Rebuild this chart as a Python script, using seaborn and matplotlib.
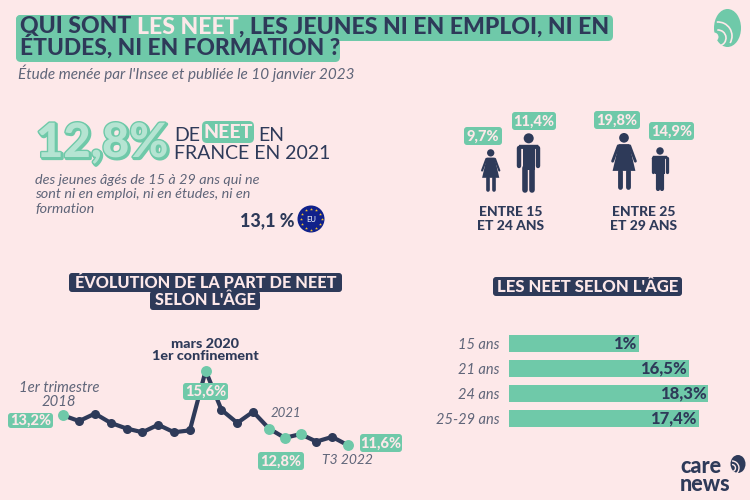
import numpy as np
import pandas as pd
import matplotlib
matplotlib.use("Agg")
import matplotlib.pyplot as plt
import matplotlib.patheffects as pe
from matplotlib.patches import Circle, Ellipse, Arc, FancyBboxPatch, Polygon
import seaborn as sns

# data
quarters = list(range(19))
neet_rate = [13.2, 12.9, 13.3, 12.8, 12.5, 12.3, 12.7, 12.3, 12.4, 15.6,
             13.5, 12.8, 13.4, 12.5, 12.0, 12.2, 11.8, 12.05, 11.6]
highlighted = [0, 9, 13, 14, 15, 18]

ages = ["15 ans", "21 ans", "24 ans", "25-29 ans"]
age_bar_lengths = [11.9, 16.5, 18.3, 17.4]
age_labels = ["1%", "16,5%", "18,3%", "17,4%"]

BG = "#FDE8E9"
GREEN = "#6FC9A9"
LIGHT_GREEN = "#B5E4D2"
NAVY = "#2E3A59"
GREY = "#5F6579"
FONT = "Lato"
PX = 0.72  # px to pt at dpi 100

sns.set_theme(style="white", rc={"figure.facecolor": BG, "axes.facecolor": "none"})
plt.rcParams["font.family"] = [FONT, "DejaVu Sans"]

fig = plt.figure(figsize=(7.5, 5), dpi=100)


def px_axes(left, top, width, height):
    return fig.add_axes([left / 750, 1 - (top + height) / 500, width / 750, height / 500])


# line chart
line_ax = px_axes(63.3, 370.7, 284.7, 74.6)
df_line = pd.DataFrame({"quarter": quarters, "rate": neet_rate})
sns.lineplot(data=df_line, x="quarter", y="rate", ax=line_ax, color=NAVY, lw=3,
             marker="o", markersize=6.5, markeredgewidth=0, clip_on=False)
sns.scatterplot(data=df_line.iloc[highlighted], x="quarter", y="rate", ax=line_ax,
                color=GREEN, s=62, linewidth=0, zorder=4, clip_on=False)
line_ax.set_xlim(0, 18)
line_ax.set_ylim(11.6, 15.6)
line_ax.axis("off")

# bar chart
bar_ax = px_axes(509, 331.3, 218, 100)
df_bar = pd.DataFrame({"age": ages, "length": age_bar_lengths})
sns.barplot(data=df_bar, y="age", x="length", ax=bar_ax, color=GREEN, saturation=1,
            width=0.68, orient="h", linewidth=0)
bar_ax.set_xlim(0, 20)
bar_ax.set_ylim(3.5, -0.5)
bar_ax.set(xlabel="", ylabel="", xticks=[])
bar_ax.tick_params(axis="y", length=0, pad=7)
for tick in bar_ax.get_yticklabels():
    tick.set(style="italic", fontsize=10.5, color=GREY)
sns.despine(ax=bar_ax, left=True, bottom=True)
for i, (length, lab) in enumerate(zip(age_bar_lengths, age_labels)):
    bar_ax.annotate(lab, (length, i), xytext=(-1.5, 0), textcoords="offset points",
                    ha="right", va="center", fontsize=12, fontweight="black", color=NAVY)

# everything else goes on a pixel overlay
ov = fig.add_axes([0, 0, 1, 1], zorder=5)
ov.set_xlim(0, 750)
ov.set_ylim(500, 0)
ov.axis("off")


def box(x0, y0, x1, y1, color=GREEN, r=4):
    ov.add_patch(FancyBboxPatch((x0 + r, y0 + r), x1 - x0 - 2 * r, y1 - y0 - 2 * r,
                                boxstyle=f"round,pad={r},rounding_size={r}",
                                fc=color, ec="none", zorder=1))


def label(x0, y0, x1, y1, s, size=10.5):
    box(x0, y0, x1, y1, r=3)
    ov.text((x0 + x1) / 2, (y0 + y1) / 2 + 0.5, s, ha="center", va="center", color=BG,
            fontsize=size, fontweight="black", zorder=3)


def run_text(x, y, parts, size, weight="black"):
    # consecutive pieces of one line, each with its colour
    renderer = fig.canvas.get_renderer()
    for s, color in parts:
        t = ov.text(x, y, s.replace(" ", "\u00a0"), color=color, fontsize=size, fontweight=weight,
                    va="baseline", ha="left", zorder=3)
        x += t.get_window_extent(renderer).width


def person(cx, top, h, woman=False):
    def pt(x, y):
        return cx + x * h, top + y * h

    def stroke(a, b, w):
        ov.plot(*zip(pt(*a), pt(*b)), color=NAVY, lw=w * h * PX, solid_capstyle="round", zorder=3)

    ov.add_patch(Circle(pt(0, 0.09), 0.085 * h, fc=NAVY, ec="none", zorder=3))
    if woman:
        ov.add_patch(Polygon([pt(-0.09, 0.2), pt(0.09, 0.2), pt(0.2, 0.67), pt(-0.2, 0.67)],
                             fc=NAVY, ec="none", zorder=3))
        for s in (-1, 1):
            stroke((s * 0.1, 0.23), (s * 0.2, 0.5), 0.05)
            stroke((s * 0.07, 0.67), (s * 0.07, 0.96), 0.085)
    else:
        ov.add_patch(Polygon([pt(-0.16, 0.2), pt(0.16, 0.2), pt(0.19, 0.27), pt(-0.19, 0.27)],
                             fc=NAVY, ec="none", zorder=3))
        ov.add_patch(Polygon([pt(-0.105, 0.22), pt(0.105, 0.22), pt(0.105, 0.62), pt(-0.105, 0.62)],
                             fc=NAVY, ec="none", zorder=3))
        for s in (-1, 1):
            stroke((s * 0.16, 0.26), (s * 0.16, 0.56), 0.075)
            stroke((s * 0.055, 0.6), (s * 0.055, 0.96), 0.095)


# title block
box(16, 15, 238, 61, r=5)
box(16, 15, 613, 41, r=5)
box(16, 40, 340, 62, r=5)
run_text(20, 33.5, [("QUI SONT ", NAVY), ("LES NEET", BG), (", LES JEUNES NI EN EMPLOI, NI EN", NAVY)], 16.6)
run_text(20, 54.5, [("ÉTUDES, NI EN FORMATION ?", NAVY)], 16.4)
ov.text(18, 73.5, "Étude menée par l'Insee et publiée le 10 janvier 2023", style="italic",
        fontsize=11, color=GREY, va="center", zorder=3)

# headline figure
ov.text(36, 157, "12,8%", fontsize=34, fontweight="black", color=LIGHT_GREEN, zorder=3,
        path_effects=[pe.Stroke(linewidth=2.5, foreground=GREEN, offset=(1, -1)),
                      pe.Stroke(linewidth=2, foreground=GREEN), pe.Normal()])
ov.text(174, 141, "DE", fontsize=14, color=NAVY, zorder=3)
box(202, 121, 254, 143, r=5)
ov.text(228, 132, "NEET", fontsize=14, fontweight="black", color=BG, ha="center", va="center", zorder=3)
ov.text(258, 141, "EN", fontsize=14, color=NAVY, zorder=3)
ov.text(174, 159, "FRANCE EN 2021", fontsize=14, color=NAVY, zorder=3)
ov.text(35, 194.5, "des jeunes âgés de 15 à 29 ans qui ne\nsont ni en emploi, ni en études, ni en\nformation",
        style="italic", fontsize=10.4, color=GREY, va="center", linespacing=1.25, zorder=3)
ov.text(295, 221, "13,1 %", fontsize=13, fontweight="black", color=NAVY, ha="right", va="center", zorder=3)
ov.add_patch(Circle((311, 219), 13.5, fc="#10218B", ec="none", zorder=3))
star_angle = np.arange(12) * np.pi / 6
ov.scatter(311 + 10.5 * np.cos(star_angle), 219 + 10.5 * np.sin(star_angle), marker="*", s=5,
           color="#F4C430", linewidths=0, zorder=4)
ov.text(311, 219.5, "EU", fontsize=5.5, color="white", ha="center", va="center", zorder=4)

# people by age group
label(464, 127, 502, 145, "9,7%")
label(512, 112, 556, 130, "11,4%")
label(594, 111, 640, 129, "19,8%")
label(649, 122, 694, 140, "14,9%")
person(490.7, 149, 43, woman=True)
person(528.7, 133, 59)
person(624, 132.7, 57, woman=True)
person(660, 147, 44)
for x, y, s in ((511, 219.5, "ENTRE 15\nET 24 ANS"), (644, 218.5, "ENTRE 25\nET 29 ANS")):
    ov.text(x, y, s, fontsize=10, fontweight="black", color=NAVY, ha="center", va="center",
            linespacing=1.2, zorder=3)

# section headers
box(69, 273, 342, 292, color=NAVY, r=3)
box(150, 291, 260, 310, color=NAVY, r=3)
ov.text(205.5, 291.5, "ÉVOLUTION DE LA PART DE NEET\nSELON L'ÂGE", fontsize=11.7, fontweight="black",
        color=BG, ha="center", va="center", linespacing=1.1, zorder=3)
box(493, 277, 682, 296, color=NAVY, r=3)
ov.text(587.5, 286.5, "LES NEET SELON L'ÂGE", fontsize=12.1, fontweight="black", color=BG,
        ha="center", va="center", zorder=3)

# line annotations
ov.text(205, 350, "mars 2020\n1er confinement", fontsize=10.4, fontweight="black", color=NAVY,
        ha="center", va="center", linespacing=1.0, zorder=3)
ov.text(59, 395, "1er trimestre\n2018", style="italic", fontsize=10.7, color=GREY, ha="center",
        va="center", linespacing=1.0, zorder=3)
ov.text(286, 413, "2021", style="italic", fontsize=9.5, color=GREY, ha="center", va="center", zorder=3)
ov.text(347, 460.5, "T3 2022", style="italic", fontsize=10, color=GREY, ha="center", va="center", zorder=3)
label(8, 413, 53, 428, "13,2%")
label(183, 383, 228, 400, "15,6%")
label(258, 452, 304, 470, "12,8%")
label(360, 434, 402, 452, "11,6%")

# logos
ov.add_patch(Ellipse((727.5, 28), 27, 38, fc=GREEN, ec="none", zorder=3))
ov.add_patch(Arc((718, 36), 28, 28, theta1=265, theta2=30, ec=BG, lw=1.2, zorder=4))
ov.add_patch(Arc((718, 38), 16, 16, theta1=265, theta2=80, ec=BG, lw=1.2, zorder=4))
ov.add_patch(Ellipse((714, 37), 9, 9, fc=BG, ec="none", zorder=4))
ov.text(680, 491, "care\nnews", fontsize=15.5, fontweight="black", color=NAVY, va="baseline",
        linespacing=0.85, zorder=3)
ov.add_patch(Ellipse((738, 464), 15, 18, fc=NAVY, ec="none", zorder=3))
ov.add_patch(Arc((732, 468), 14, 14, theta1=270, theta2=70, ec=BG, lw=1, zorder=4))
ov.add_patch(Arc((732, 468), 7, 7, theta1=270, theta2=70, ec=BG, lw=1, zorder=4))

fig.savefig("out.png", dpi=100, facecolor=BG)
